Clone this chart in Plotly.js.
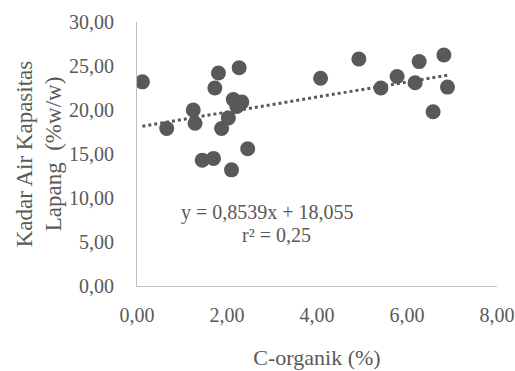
<!DOCTYPE html>
<html>
<head>
<meta charset="utf-8">
<script src="https://cdn.plot.ly/plotly-3.0.1.min.js"></script>
<style>html,body{margin:0;padding:0;background:#fff;}#chart{width:515px;height:371px;}</style>
</head>
<body>
<div id="chart"></div>
<script>
// C-organik (%)
var cOrganik = [0.12, 0.66, 1.25, 1.29, 1.45, 1.70, 1.73, 1.81, 1.88, 2.03, 2.10, 2.14, 2.22, 2.27, 2.33, 2.46,
                4.08, 4.93, 5.42, 5.78, 6.18, 6.27, 6.58, 6.82, 6.90];
// Kadar Air Kapasitas Lapang (%w/w)
var kadarAir = [23.2, 17.9, 20.0, 18.5, 14.3, 14.5, 22.5, 24.2, 17.9, 19.1, 13.2, 21.2, 20.4, 24.8, 20.9, 15.6,
                23.6, 25.8, 22.5, 23.8, 23.1, 25.5, 19.8, 26.25, 22.6];
// Linear trend: y = slope*x + intercept
var slope = 0.8539;
var intercept = 18.055;
var eqText = "y = 0,8539x + 18,055";
var r2Text = "r² = 0,25";

var xmin = Math.min.apply(null, cOrganik), xmax = Math.max.apply(null, cOrganik);
var trendX = [xmin, xmax];
var trendY = trendX.map(function(v){ return slope * v + intercept; });

var grey = '#595959';
var font = 'Liberation Serif, Times New Roman, serif';

var data = [
  {x: cOrganik, y: kadarAir, type: 'scatter', mode: 'markers',
   marker: {color: grey, size: 15, line: {width: 0}}, hoverinfo: 'skip'},
  {x: trendX, y: trendY, type: 'scatter', mode: 'lines',
   line: {color: grey, width: 3, dash: 'dot'}, hoverinfo: 'skip'}
];

var layout = {
  width: 515, height: 371,
  margin: {l: 137, r: 18, t: 22, b: 85},
  showlegend: false,
  paper_bgcolor: '#fff', plot_bgcolor: '#fff',
  separators: ',.',
  font: {family: font, color: grey, size: 19},
  xaxis: {
    range: [0, 8], tickvals: [0, 2, 4, 6, 8], tickformat: '.2f',
    showgrid: false, zeroline: false, showline: true, linecolor: '#bfbfbf', linewidth: 1,
    ticks: '', ticklabelstandoff: 11,
    tickfont: {family: font, size: 20, color: grey},
    title: {text: 'C-organik (%)', font: {family: font, size: 22, color: grey}, standoff: 24}
  },
  yaxis: {
    range: [0, 30], tickvals: [0, 5, 10, 15, 20, 25, 30], tickformat: '.2f',
    showgrid: false, zeroline: false, showline: true, linecolor: '#bfbfbf', linewidth: 1,
    ticks: '', ticklabelstandoff: 18,
    tickfont: {family: font, size: 20, color: grey},
    title: {text: 'Kadar Air Kapasitas<br>Lapang  (%w/w)', font: {family: font, size: 23, color: grey}, standoff: 0}
  },
  annotations: [
    {x: 2.91, y: 8.4, xref: 'x', yref: 'y', text: eqText, showarrow: false,
     font: {family: font, size: 20, color: grey}},
    {x: 3.11, y: 5.8, xref: 'x', yref: 'y', text: r2Text, showarrow: false,
     font: {family: font, size: 20, color: grey}}
  ]
};

Plotly.newPlot('chart', data, layout, {staticPlot: true, displayModeBar: false});
</script>
</body>
</html>
